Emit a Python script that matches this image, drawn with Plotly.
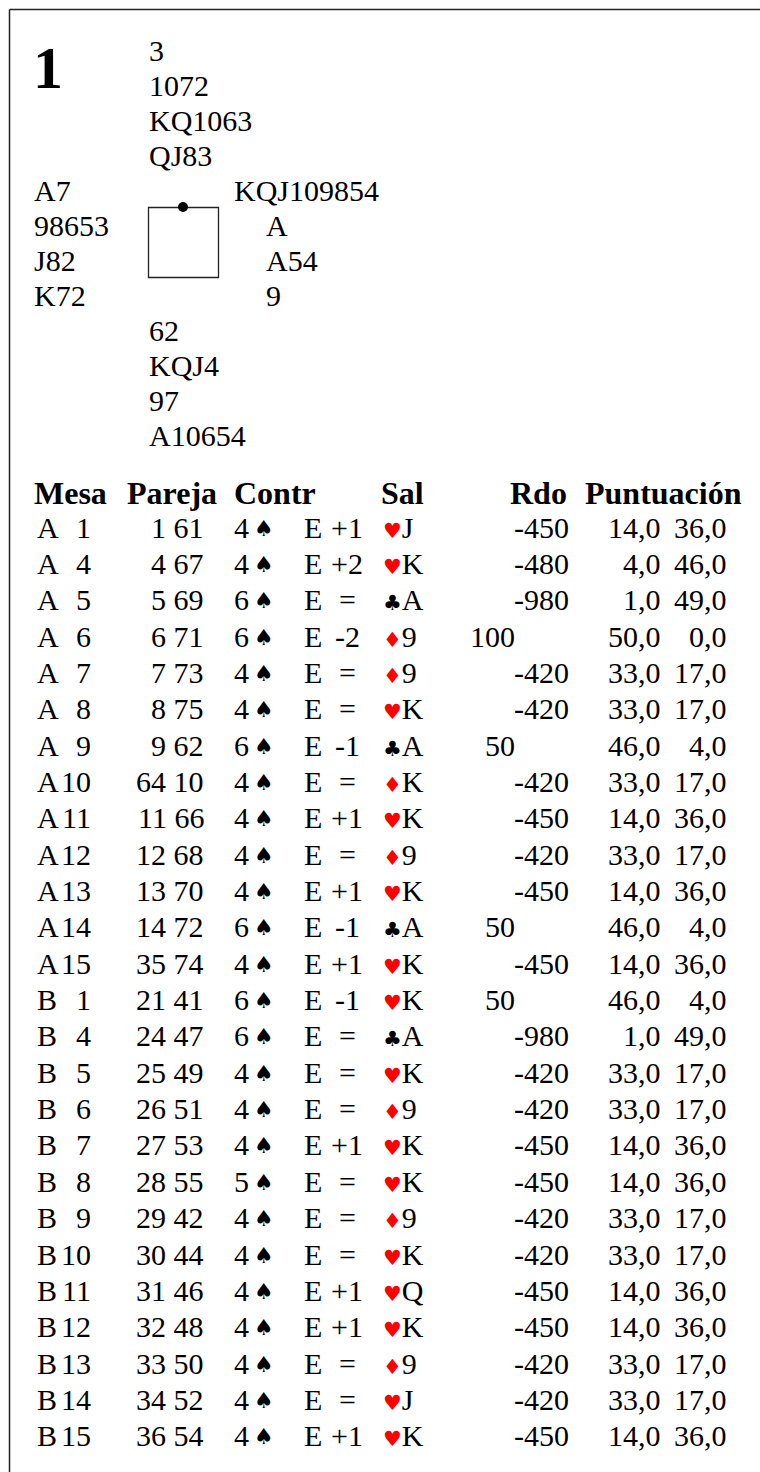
import plotly.graph_objects as go

# ---------------- data ----------------
board_number = "1"
north = ["3", "1072", "KQ1063", "QJ83"]
west = ["A7", "98653", "J82", "K72"]
east = ["KQJ109854", "A", "A54", "9"]
south = ["62", "KQJ4", "97", "A10654"]

headers = ["Mesa", "Pareja", "Contr", "Sal", "Rdo", "Puntuación"]

sections = ["A"] * 13 + ["B"] * 13
tables = [1, 4, 5, 6, 7, 8, 9, 10, 11, 12, 13, 14, 15,
          1, 4, 5, 6, 7, 8, 9, 10, 11, 12, 13, 14, 15]
pairs_ns = [1, 4, 5, 6, 7, 8, 9, 64, 11, 12, 13, 14, 35,
            21, 24, 25, 26, 27, 28, 29, 30, 31, 32, 33, 34, 36]
pairs_ew = [61, 67, 69, 71, 73, 75, 62, 10, 66, 68, 70, 72, 74,
            41, 47, 49, 51, 53, 55, 42, 44, 46, 48, 50, 52, 54]
levels = [4, 4, 6, 6, 4, 4, 6, 4, 4, 4, 4, 6, 4,
          6, 6, 4, 4, 4, 5, 4, 4, 4, 4, 4, 4, 4]
strains = ["♠"] * 26
declarers = ["E"] * 26
results = ["+1", "+2", "=", "-2", "=", "=", "-1", "=", "+1", "=", "+1", "-1", "+1",
           "-1", "=", "=", "=", "+1", "=", "=", "=", "+1", "+1", "=", "=", "+1"]
lead_suits = ["♥", "♥", "♣", "♦", "♦", "♥", "♣", "♦", "♥", "♦", "♥", "♣", "♥",
              "♥", "♣", "♥", "♦", "♥", "♥", "♦", "♥", "♥", "♥", "♦", "♥", "♥"]
lead_cards = ["J", "K", "A", "9", "9", "K", "A", "K", "K", "9", "K", "A", "K",
              "K", "A", "K", "9", "K", "K", "9", "K", "Q", "K", "9", "J", "K"]
scores_ns = ["", "", "", "100", "", "", "50", "", "", "", "", "50", "",
             "50", "", "", "", "", "", "", "", "", "", "", "", ""]
scores_ew = ["-450", "-480", "-980", "", "-420", "-420", "", "-420", "-450", "-420", "-450", "", "-450",
             "", "-980", "-420", "-420", "-450", "-450", "-420", "-420", "-450", "-450", "-420", "-420", "-450"]
mp_ns = ["14,0", "4,0", "1,0", "50,0", "33,0", "33,0", "46,0", "33,0", "14,0", "33,0", "14,0", "46,0", "14,0",
         "46,0", "1,0", "33,0", "33,0", "14,0", "14,0", "33,0", "33,0", "14,0", "14,0", "33,0", "33,0", "14,0"]
mp_ew = ["36,0", "46,0", "49,0", "0,0", "17,0", "17,0", "4,0", "17,0", "36,0", "17,0", "36,0", "4,0", "36,0",
         "4,0", "49,0", "17,0", "17,0", "36,0", "36,0", "17,0", "17,0", "36,0", "36,0", "17,0", "17,0", "36,0"]

# ---------------- style ----------------
W, H = 760, 1472
SERIF = "Liberation Serif"
FS = 30
HFS = 32
RED = "#ff0000"
SUIT_COLOR = {"♠": "#000000", "♣": "#000000", "♥": RED, "♦": RED}

hand_y0, hand_dy = 50, 35
header_y = 493
row_y0, row_dy = 527, 36.35


def suit(s, size):
    return ('<span style="font-family:DejaVu Sans;font-size:%dpx;color:%s">%s</span>'
            % (size, SUIT_COLOR[s], s))


annotations = []


def txt(x, y, text, anchor="left", size=FS, bold=False):
    annotations.append(dict(
        x=x, y=y, xref="x", yref="y", text=("<b>%s</b>" % text) if bold else text,
        showarrow=False, xanchor=anchor, yanchor="middle",
        font=dict(family=SERIF, size=size, color="#000000"),
    ))


# board number
txt(31, 68, board_number, size=60, bold=True)

# hands
for i, h in enumerate(north):
    txt(147, hand_y0 + i * hand_dy, h)
for i, h in enumerate(west):
    txt(32, hand_y0 + (4 + i) * hand_dy, h)
for i, h in enumerate(east):
    txt(232 if i == 0 else 264, hand_y0 + (4 + i) * hand_dy, h)
for i, h in enumerate(south):
    txt(147, hand_y0 + (8 + i) * hand_dy, h)

# table header
hx = [(32, "left"), (125, "left"), (232, "left"), (379, "left"), (569, "right"), (744, "right")]
for (x, a), h in zip(hx, headers):
    txt(x, header_y, h, anchor=a, size=HFS, bold=True)

# table rows
for i in range(len(tables)):
    y = row_y0 + i * row_dy
    txt(35, y, sections[i])
    txt(93, y, str(tables[i]), anchor="right")
    txt(206, y, "%d %d" % (pairs_ns[i], pairs_ew[i]), anchor="right")
    txt(232, y, str(levels[i]))
    txt(252, y + 1, suit(strains[i], 22))
    txt(302, y, declarers[i])
    txt(347, y, results[i], anchor="center")
    txt(381, y, "%s%s" % (suit(lead_suits[i], 21), lead_cards[i]))
    if scores_ns[i]:
        txt(517, y, scores_ns[i], anchor="right")
    if scores_ew[i]:
        txt(571, y, scores_ew[i], anchor="right")
    txt(663, y, mp_ns[i], anchor="right")
    txt(729, y, mp_ew[i], anchor="right")

shapes = [
    dict(type="line", xref="x", yref="y", x0=9.5, y0=9.5, x1=W, y1=9.5,
         line=dict(color="#222222", width=1.5)),
    dict(type="line", xref="x", yref="y", x0=9.5, y0=9.5, x1=9.5, y1=H,
         line=dict(color="#222222", width=1.5)),
    dict(type="rect", xref="x", yref="y", x0=148.5, y0=207.5, x1=218.5, y1=277.5,
         line=dict(color="#222222", width=1.3)),
    dict(type="circle", xref="x", yref="y", x0=178, y0=202, x1=188, y1=212,
         fillcolor="#000000", line=dict(color="#000000", width=0)),
]

fig = go.Figure()
fig.update_layout(
    width=W, height=H,
    margin=dict(l=0, r=0, t=0, b=0, pad=0),
    paper_bgcolor="#ffffff", plot_bgcolor="#ffffff",
    xaxis=dict(range=[0, W], visible=False, fixedrange=True),
    yaxis=dict(range=[H, 0], visible=False, fixedrange=True),
    showlegend=False,
    annotations=annotations,
    shapes=shapes,
)

fig.write_html("out.html", config={"displayModeBar": False},
               post_script="document.body.style.margin='0';")
